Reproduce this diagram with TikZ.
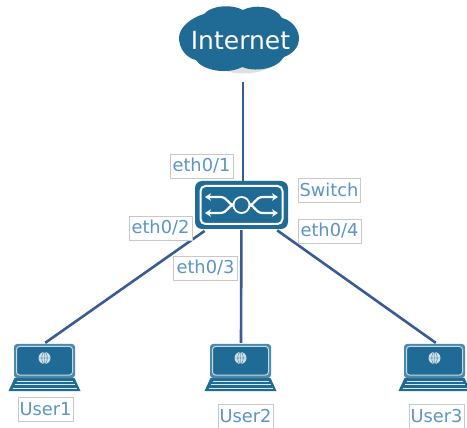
\documentclass[tikz,border=0pt]{standalone}
\usepackage{fontspec}
\usetikzlibrary{arrows.meta}
\setmainfont{DejaVu Sans}
\definecolor{teal1}{HTML}{1F6B95}
\definecolor{linkc}{HTML}{3A5A96}
\definecolor{lab}{HTML}{5B94C6}
\definecolor{boxc}{HTML}{C8C8C8}
\tikzset{
  link/.style={draw=linkc,line width=2.6pt},
  lbl/.style={draw=boxc,line width=.8pt,fill=white,text=lab,font=\fontsize{17.8}{20}\selectfont,inner sep=0pt,minimum height=24pt,anchor=center},
  swarrow/.style={white,line width=2.2pt,{Stealth[length=6pt,width=7.5pt]}-},
  port/.style={inner sep=0pt,minimum size=0pt},
  laptop/.pic={
    \fill[teal1!80!white,rounded corners=3pt] (-30.5,-1) rectangle (30.5,33);
    \draw[draw=white!75!teal1,line width=1pt,fill=teal1,rounded corners=3pt] (-28,1.5) rectangle (28,30);
    \fill[teal1] (-30,33) -- (30,33) -- (36,46) -- (-36,46) -- cycle;
    \draw[white!85!teal1,line width=.9pt] (-28,36) -- (28,36) (-30,39.5) -- (30,39.5) (-32,43) -- (32,43);
    \fill[white!80!teal1] (0,13) circle (6);
    \draw[teal1,line width=.4pt] (-6,13) -- (6,13) (0,7) -- (0,19) (0,13) ellipse (2.7 and 6);
  },
}
\begin{document}
\begin{tikzpicture}[x=1pt,y=-1pt]
\useasboundingbox (0,0) rectangle (467,428);
% cloud
\fill[black!35,opacity=.35] (205,60) .. controls (225,78) and (262,78) .. (282,60) -- cycle;
\fill[teal1] (204,14)
  .. controls (212,5) and (232,4) .. (243,10)
  .. controls (254,4) and (276,6) .. (282,18)
  .. controls (292,20) and (299,30) .. (299,38)
  .. controls (299,48) and (292,54) .. (284,57)
  .. controls (276,70) and (254,72) .. (242,67)
  .. controls (230,74) and (204,72) .. (196,60)
  .. controls (186,58) and (179,48) .. (179,38)
  .. controls (179,28) and (190,18) .. (204,14) -- cycle;
\node[text=white,font=\fontsize{25}{28}\selectfont,inner sep=0pt,minimum height=83pt] (cloud) at (240.5,40.5) {Internet};
% switch
\node[fill=teal1,rounded corners=7pt,minimum width=93pt,minimum height=48pt,inner sep=0pt] (sw) at (241.5,205) {};
\draw[white,line width=2pt,rounded corners=5pt] (200.5,186) rectangle (282.5,224);
\draw[swarrow] (205,197) -- (220,197) .. controls (228,197) and (228,205) .. (234,205);
\draw[swarrow] (205,213) -- (220,213) .. controls (228,213) and (228,205) .. (234,205);
\draw[swarrow] (278,197) -- (263,197) .. controls (255,197) and (255,205) .. (249,205);
\draw[swarrow] (278,213) -- (263,213) .. controls (255,213) and (255,205) .. (249,205);
\draw[white,line width=1.8pt,fill=teal1] (241.5,205) circle (8);
% laptops
\pic at (44.5,345) {laptop};
\pic at (240.5,345) {laptop};
\pic at (434.5,345) {laptop};
\node[port] (u1) at (45,343) {};
\node[port] (u2) at (241,343) {};
\node[port] (u3) at (436,343) {};
\draw[link] ([xshift=2.5pt]cloud.south) -- ([xshift=1.5pt]sw.north);
\draw[link,shorten <=3pt] (sw) -- (u1);
\draw[link,shorten <=1pt] (sw) -- (u2);
\draw[link,shorten <=2pt] (sw) -- (u3);
% labels
\node[lbl,minimum width=63pt] (l1) at (201.5,166) {eth0/1};
\node[lbl,minimum width=62pt] (l5) at (329,190) {Switch};
\node[lbl,minimum width=63pt] (l2) at (160.5,228) {eth0/2};
\node[lbl,minimum width=63pt] (l4) at (329.5,231) {eth0/4};
\node[lbl,minimum width=64pt] (l3) at (205.5,268) {eth0/3};
\node[lbl,minimum width=55pt] (n1) at (45.5,409.5) {User1};
\node[lbl,minimum width=55pt] (n2) at (245.5,416) {User2};
\node[lbl,minimum width=55pt] (n3) at (436.5,416) {User3};
\end{tikzpicture}
\end{document}
